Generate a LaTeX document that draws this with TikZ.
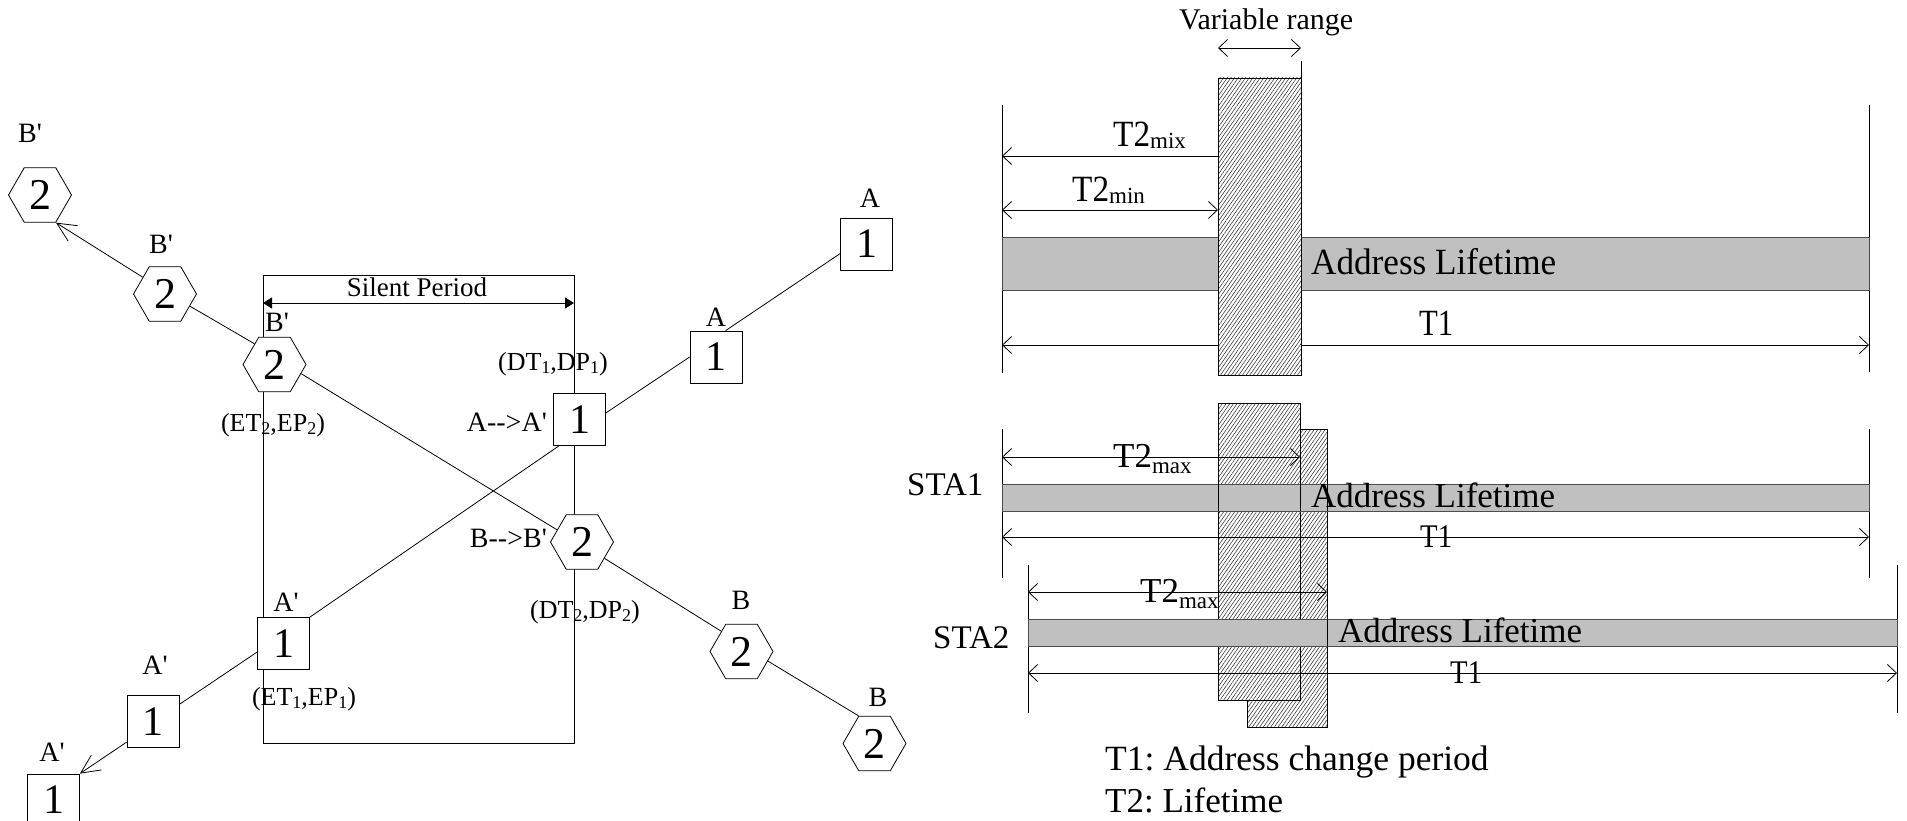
\documentclass[tikz,border=0pt]{standalone}
\usepackage{fontspec}
\usepackage{graphicx}
\setmainfont{Liberation Serif}[Ligatures=TeXOff]
\frenchspacing
\usetikzlibrary{arrows.meta,shapes.geometric,patterns.meta}
\newcommand\fsz[1]{\fontsize{#1}{#1}\selectfont}
\newcommand\sbs[1]{\raisebox{-3pt}{\fsz{18}#1}}
\tikzset{
  sq/.style={draw, fill=white, minimum size=52pt, inner sep=0pt, line width=0.8pt, font=\fsz{42}},
  hex/.style={draw, fill=white, regular polygon, regular polygon sides=6, minimum size=63pt, inner sep=0pt, line width=0.8pt, font=\fsz{44}},
  lbl/.style={inner sep=0pt, font=\fsz{28}},
  conn/.style={line width=0.8pt},
  bigbarb/.style={-{Straight Barb[length=19pt,width=18pt]}},
  rline/.style={line width=0.8pt},
  barbs/.style={{Straight Barb[length=9pt,width=17pt]}-{Straight Barb[length=9pt,width=17pt]}},
  lbarb/.style={{Straight Barb[length=9pt,width=17pt]}-},
  bar/.style={fill={rgb,255:red,192;green,192;blue,192}, draw=black!70, line width=0.8pt},
  hatch/.style={pattern={Lines[angle=55,distance=3pt,line width=0.5pt]}, pattern color=black!85},
  txt/.style={inner sep=0pt, anchor=base west}
}
\begin{document}
\begin{tikzpicture}[x=1pt,y=-1pt]
\useasboundingbox (0,0) rectangle (1907,821);

% ---------------- left part ----------------
\coordinate (boxtl) at (263,275);
\coordinate (boxbr) at (574,743);
\draw[line width=0.8pt] (boxtl) rectangle (boxbr);
\coordinate (spl) at (263,303);
\coordinate (spr) at (574,303);
\draw[line width=0.8pt, {Triangle[length=9pt,width=11pt]}-{Triangle[length=9pt,width=11pt]}] (spl) -- (spr);
\node[lbl, font=\fsz{27}] (silent) at (417,287) {Silent Period};

% hexagons (B)
\node[hex] (hBpf) at (40,195) {2};
\node[hex] (hBpm) at (165,294) {2};
\node[hex] (hBpb) at (274.5,364.5) {2};
\node[hex] (hBB) at (582,542) {2};
\node[hex] (hBm) at (741.5,651.5) {2};
\node[hex] (hBf) at (874.5,743.5) {2};
% squares (A)
\node[sq] (sAf) at (866.5,244) {1};
\node[sq] (sAm) at (716,357) {1};
\node[sq] (sAA) at (579.5,419.5) {1};
\node[sq] (sApb) at (283.5,643.5) {1};
\node[sq] (sApm) at (153,721.5) {1};
\node[sq] (sApf) at (53.5,800) {1};

% labels
\node[lbl] (lBpf) at (30,133) {B'};
\node[lbl] (lBpm) at (161,244) {B'};
\node[lbl] (lBpb) at (277,322) {B'};
\node[lbl] (lAf) at (870,198) {A};
\node[lbl] (lAm) at (716,317) {A};
\node[lbl, anchor=east] (lAA) at (547,422) {A-->A'};
\node[lbl, font=\fsz{26}, anchor=base] (lDT1) at (553,370) {(DT\sbs{1},DP\sbs{1})};
\node[lbl, anchor=east] (lBB) at (547,538) {B-->B'};
\node[lbl, font=\fsz{26}, anchor=base] (lDT2) at (585,618) {(DT\sbs{2},DP\sbs{2})};
\node[lbl] (lBm) at (741,600) {B};
\node[lbl] (lBf) at (878,697) {B};
\node[lbl] (lApb) at (286,602) {A'};
\node[lbl, font=\fsz{26}, anchor=base] (lET1) at (304,705) {(ET\sbs{1},EP\sbs{1})};
\node[lbl, font=\fsz{26}, anchor=base] (lET2) at (273,431) {(ET\sbs{2},EP\sbs{2})};
\node[lbl] (lApm) at (155,665) {A'};
\node[lbl] (lApf) at (52,752) {A'};

% connectors
\draw[conn, bigbarb] (hBpm.143) -- (hBpf.300);
\draw[conn] (hBpb.134) -- (hBpm.334);
\draw[conn] (hBpb.341) -- (hBB.154);
\draw[conn] (hBB.324) -- (hBm.135);
\draw[conn] (hBm.340) -- (hBf.120);
\draw[conn] (sApb.north east) -- (sAA.232);
\draw[conn] (sAA.14) -- (sAm.180);
\draw[conn] (sAm.70) -- (sAf.200);
\draw[conn] (sApb.198) -- (sApm.33);
\draw[conn, bigbarb] (sApm.218) -- (sApf.north east);

% ---------------- right part: top ----------------
\node[txt, font=\fsz{30}] (vr) at (1179,30) {Variable range};
\draw[rline, barbs] (1218,48) -- (1301,48);

\draw[rline] (1002,105) -- (1002,373);
\draw[rline] (1869,105) -- (1869,372);
\draw[rline, lbarb] (1002,156) -- (1218,156);
\node[txt] (t2mix) at (1113,147) {\fsz{37}\scalebox{0.9}[1]{T2}\raisebox{-1.5pt}{\fsz{23}mix}};
\draw[rline, barbs] (1002,210) -- (1218,210);
\node[txt] (t2min) at (1072,202) {\fsz{37}\scalebox{0.9}[1]{T2}\raisebox{-1.5pt}{\fsz{23}min}};
\draw[bar] (1002,237) rectangle (1869,290);
\node[txt] (al0) at (1311,274) {\fsz{37}\scalebox{0.95}[1]{Address Lifetime}};
\draw[rline, barbs] (1002,345) -- (1869,345);
\node[txt] (t10) at (1419,335) {\fsz{37}\scalebox{0.83}[1]{T1}};
\fill[white] (1218,78) rectangle (1301,375);
\fill[hatch] (1218,78) rectangle (1301,375);
\draw[rline] (1218,78) rectangle (1301,375);
\draw[rline] (1301,61) -- (1301,78);

% ---------------- right part: STA1 / STA2 ----------------
\fill[white] (1247,429) rectangle (1327,727);
\fill[hatch] (1247,429) rectangle (1327,727);
\draw[rline] (1247,429) rectangle (1327,727);
\fill[white] (1218,403) rectangle (1300,700);
\fill[hatch] (1218,403) rectangle (1300,700);
\draw[rline] (1218,403) rectangle (1300,700);

% STA1
\node[txt, font=\fsz{33}] (sta1) at (907,495) {STA1};
\draw[rline] (1002,429) -- (1002,578);
\draw[rline] (1869,429) -- (1869,578);
\draw[bar] (1002,484) rectangle (1869,511);
\draw[rline] (1218,484) -- (1218,511);
\draw[rline] (1300,484) -- (1300,511);
\draw[rline] (1327,484) -- (1327,511);
\draw[rline, barbs] (1002,457) -- (1300,457);
\node[txt] (t2max1) at (1113,467) {\fsz{35}T2\raisebox{-6pt}{\fsz{23}max}};
\draw[rline, barbs] (1002,537) -- (1869,537);
\node[txt] (t11) at (1420,547) {\fsz{33}\scalebox{0.87}[1]{T1}};
\node[txt] (al1) at (1311,507) {\fsz{35}Address Lifetime};

% STA2
\node[txt, font=\fsz{33}] (sta2) at (933,648) {STA2};
\draw[rline] (1028,565) -- (1028,713);
\draw[rline] (1897,565) -- (1897,713);
\draw[bar] (1028,619) rectangle (1897,646);
\draw[rline] (1327,619) -- (1327,646);
\draw[rline, barbs] (1028,592) -- (1327,592);
\node[txt] (t2max2) at (1140,602) {\fsz{35}T2\raisebox{-6pt}{\fsz{23}max}};
\draw[rline, barbs] (1028,673) -- (1897,673);
\node[txt] (t12) at (1450,683) {\fsz{33}\scalebox{0.87}[1]{T1}};
\node[txt] (al2) at (1338,642) {\fsz{35}Address Lifetime};

% legend
\node[txt, font=\fsz{35.5}] (leg1) at (1105,770) {T1: Address change period};
\node[txt, font=\fsz{35}] (leg2) at (1105,812) {T2: Lifetime};
\end{tikzpicture}
\end{document}
